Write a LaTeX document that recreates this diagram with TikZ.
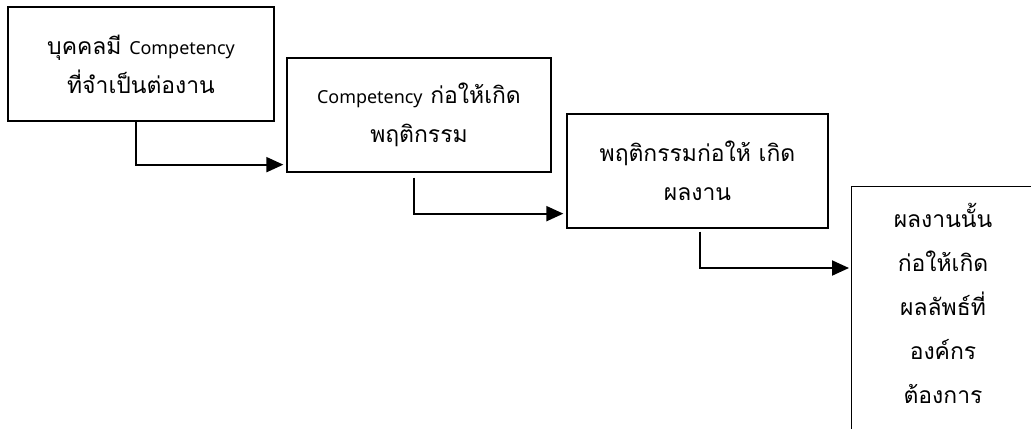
\documentclass[tikz,border=0pt]{standalone}
\usepackage{fontspec}
\setmainfont[Script=Thai]{Loma}
\newfontfamily\latinf{Noto Sans}
\newcommand\comp{{\latinf\fontsize{18}{38}\selectfont Competency}}
\usetikzlibrary{arrows.meta}
\begin{document}
\begin{tikzpicture}[x=1bp,y=-1bp,
  box/.style={draw,line width=1.3bp,align=center,inner sep=0pt,
    font=\fontsize{23}{39}\selectfont},
  arr/.style={line width=2bp,-{Triangle[length=17bp,width=15bp]}}]
\clip (0,0) rectangle (1031,428);
\fill[white] (0,0) rectangle (1031,428);
\node[box,minimum width=266bp,minimum height=114bp] (b1) at (141,64)
  {บุคคลมี \comp\\ที่จำเป็นต่องาน};
\node[box,minimum width=264bp,minimum height=114bp] (b2) at (419,115)
  {\comp\ ก่อให้เกิด\\พฤติกรรม};
\node[box,minimum width=261bp,minimum height=114bp] (b3) at (697.5,171)
  {พฤติกรรมก่อให้ เกิด\\ผลงาน};
\node[box,minimum width=184bp,minimum height=250bp,anchor=north west] (b4) at (851,186) {};
\node[font=\fontsize{23}{44}\selectfont,align=center,anchor=north] (t4) at (943,200)
  {ผลงานนั้น\\ก่อให้เกิด\\ผลลัพธ์ที่\\องค์กร\\ต้องการ};
\coordinate (s1) at ([xshift=-5bp]b1.south);
\coordinate (s2) at ([xshift=-5bp,yshift=-5bp]b2.south);
\coordinate (s3) at ([xshift=2bp,yshift=-3bp]b3.south);
\draw[arr] (s1) |- ([xshift=-3bp,yshift=8bp]b2.south west);
\draw[arr] (s2) |- ([xshift=-3bp,yshift=15bp]b3.south west);
\draw[arr] (s3) |- ([xshift=-2bp,yshift=-82bp]b4.north west);
\end{tikzpicture}
\end{document}
